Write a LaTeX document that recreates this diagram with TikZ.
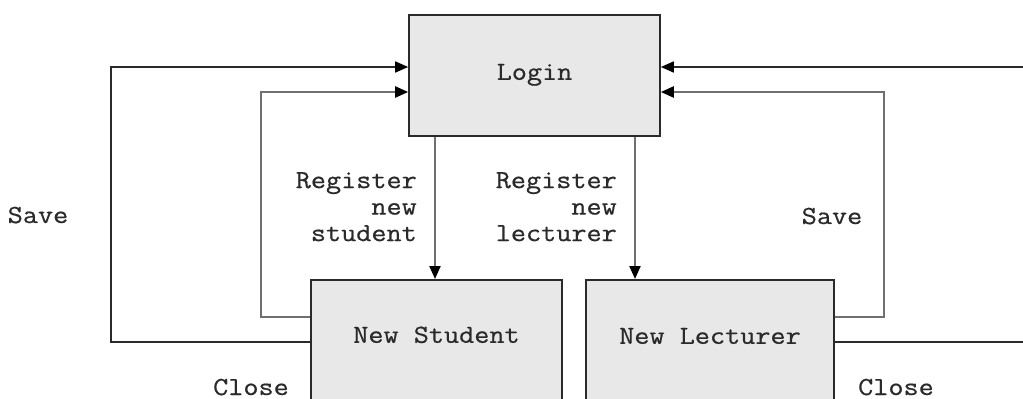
\documentclass[tikz,border=0pt]{standalone}
\usepackage{fontspec}
\setmonofont{Latin Modern Mono}[FakeStretch=1.13,FakeBold=0.6]
\usetikzlibrary{arrows.meta}
\definecolor{boxfill}{HTML}{E8E8E8}
\definecolor{inkdark}{HTML}{2A2A2A}
\definecolor{inkgrey}{HTML}{707070}
\begin{document}
\begin{tikzpicture}[x=1pt,y=-1pt,
  every node/.style={font=\ttfamily\fontsize{26}{26.5}\selectfont, text=inkdark},
  screen/.style={draw=inkdark, line width=1.6pt, fill=boxfill, inner xsep=0pt, inner ysep=0pt, anchor=north},
  tip/.style={-{Triangle[length=13pt,width=11pt,color=black]}},
  outerflow/.style={tip, draw=inkdark, line width=1.6pt},
  innerflow/.style={tip, draw=inkgrey, line width=2.2pt},
  lbl/.style={inner sep=0pt}
]
\useasboundingbox (0,0) rectangle (1023,399);
\clip (0,0) rectangle (1023,399);
\fill[white] (0,0) rectangle (1023,399);

% screens
\node[screen, minimum width=251pt, text height=65pt, text depth=56pt] (login) at (534.5,14) {Login};
\node[screen, minimum width=251pt, text height=63pt, text depth=90pt] (student) at (436.5,279) {New Student};
\node[screen, minimum width=248pt, text height=64pt, text depth=90pt] (lecturer) at (710,279) {New Lecturer};

% anchor points of the return paths
\coordinate (sOut) at (student.west |- 0,342);
\coordinate (sIn)  at (student.west |- 0,317);
\coordinate (lOut) at (lecturer.east |- 0,342);
\coordinate (lIn)  at (lecturer.east |- 0,317);
\coordinate (gTop) at (login.west |- 0,67);
\coordinate (gLow) at (login.west |- 0,92);
\coordinate (hTop) at (login.east |- 0,67);
\coordinate (hLow) at (login.east |- 0,92);

% register flows
\draw[innerflow] (login.south -| 435,0) -- (student.north -| 435,0);
\draw[innerflow] (login.south -| 635,0) -- (lecturer.north -| 635,0);

% return flows to login
\draw[outerflow] (sOut) -| (111,67) -- (gTop);
\draw[innerflow] (sIn) -| (261,92) -- (gLow);
\draw[outerflow] (lOut) -| (1060,67) -- (hTop);
\draw[innerflow] (lIn) -| (884,92) -- (hLow);

% labels
\node[lbl, align=right, anchor=north east] (regS) at (417,172) {Register\\new\\student};
\node[lbl, align=right, anchor=north east] (regL) at (617,172) {Register\\new\\lecturer};
\node[lbl, anchor=base] (saveL) at (38,223) {Save};
\node[lbl, anchor=base] (saveR) at (832,224) {Save};
\node[lbl, anchor=base] (closeL) at (251,395) {Close};
\node[lbl, anchor=base] (closeR) at (896,395) {Close};
\end{tikzpicture}
\end{document}
